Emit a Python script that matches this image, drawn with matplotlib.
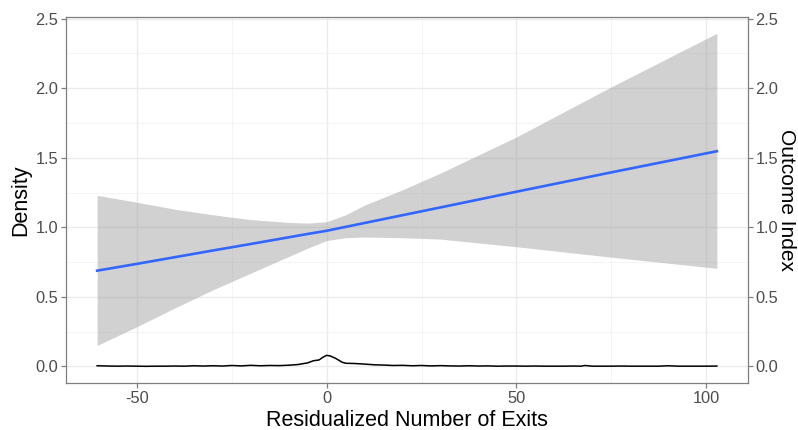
import numpy as np
import matplotlib
matplotlib.use("Agg")
import matplotlib.pyplot as plt
from matplotlib.ticker import MultipleLocator

plt.rcParams['font.family'] = ['Liberation Sans', 'DejaVu Sans']

# smooth fit (outcome index) and its confidence band
fit_x = [-60.5, -50, -40, -30, -20, -10, -5, 0, 5, 10, 20, 30, 50, 75, 102.8]
fit_y = [0.688, 0.737, 0.785, 0.833, 0.880, 0.928, 0.952, 0.975, 1.003, 1.031, 1.087, 1.143, 1.256, 1.395, 1.547]
fit_lo = [0.15, 0.285, 0.42, 0.55, 0.67, 0.79, 0.85, 0.905, 0.925, 0.93, 0.925, 0.915, 0.86, 0.785, 0.705]
fit_hi = [1.23, 1.18, 1.13, 1.09, 1.055, 1.035, 1.03, 1.04, 1.09, 1.16, 1.27, 1.39, 1.65, 2.01, 2.395]

# density of residualized exits
dens_x = [-60.5, -57.5, -55, -52.5, -50, -47.5, -45, -42.5, -40, -37.5, -35, -32.5,
          -30, -27.5, -25, -22.5, -20, -17.5, -15, -12.5, -10, -7.5, -5, -3.5,
          -2, -1, 0, 1, 2.5, 4, 5, 7.5, 10, 12.5, 15, 17.5, 20, 22.5, 25, 27.5,
          30, 32.5, 35, 37.5, 40, 42.5, 45, 47.5, 50, 52.5, 55, 57.5, 60, 62.5,
          65, 67, 68, 70, 72.5, 75, 77.5, 80, 82.5, 85, 87.5, 90, 92.5, 95,
          97.5, 100, 102.8]
dens_y = [0.004, 0.002, 0.001, 0.002, 0.001, 0.000, 0.001, 0.001, 0.002, 0.001, 0.004, 0.002,
          0.004, 0.002, 0.006, 0.003, 0.007, 0.004, 0.006, 0.005, 0.008, 0.013, 0.025, 0.040,
          0.046, 0.065, 0.079, 0.074, 0.055, 0.030, 0.022, 0.020, 0.016, 0.011, 0.009, 0.006,
          0.007, 0.004, 0.006, 0.003, 0.005, 0.003, 0.002, 0.004, 0.002, 0.003, 0.001, 0.002,
          0.002, 0.001, 0.002, 0.001, 0.001, 0.001, 0.002, 0.001, 0.006, 0.001, 0.001, 0.001,
          0.002, 0.001, 0.001, 0.001, 0.001, 0.004, 0.001, 0.001, 0.001, 0.001, 0.002]

fig = plt.figure(figsize=(7.98, 4.3), dpi=100)
ax = fig.add_axes([0.0827, 0.1093, 0.8546, 0.852])

ax.fill_between(fit_x, fit_lo, fit_hi, color="#999999", alpha=0.45, lw=0, zorder=2)
ax.plot(fit_x, fit_y, color="#3366FF", lw=1.9, zorder=3)
ax.plot(dens_x, dens_y, color="black", lw=1.1, zorder=3)

ax.set_xlim(-68.7, 111)
ax.set_ylim(-0.12, 2.515)
ax.xaxis.set_major_locator(MultipleLocator(50))
ax.xaxis.set_minor_locator(MultipleLocator(25))
ax.yaxis.set_major_locator(MultipleLocator(0.5))
ax.yaxis.set_minor_locator(MultipleLocator(0.25))
ax.set_xticks([-50, 0, 50, 100])
ax.set_xticklabels(["-50", "0", "50", "100"])

ax.grid(which="major", color="#ebebeb", lw=1.0, zorder=0)
ax.grid(which="minor", color="#f2f2f2", lw=0.6, zorder=0)
ax.set_axisbelow(True)
for s in ax.spines.values():
    s.set_color("#7f7f7f")
    s.set_linewidth(0.9)

ax.tick_params(which="major", length=3.5, width=0.9, color="#7f7f7f",
               labelsize=11.8, labelcolor="#4d4d4d", pad=2)
ax.tick_params(which="minor", length=0)
ax.yaxis.set_major_formatter(matplotlib.ticker.FormatStrFormatter("%.1f"))

ax.set_xlabel("Residualized Number of Exits", fontsize=15.5, labelpad=3)
ax.set_ylabel("Density", fontsize=15.5, labelpad=3)

ax2 = ax.twinx()
ax2.set_ylim(ax.get_ylim())
ax2.yaxis.set_major_locator(MultipleLocator(0.5))
ax2.yaxis.set_major_formatter(matplotlib.ticker.FormatStrFormatter("%.1f"))
ax2.tick_params(length=3.5, width=0.9, color="#7f7f7f", labelsize=11.8,
                labelcolor="#4d4d4d", pad=2)
for s in ax2.spines.values():
    s.set_visible(False)
ax2.set_ylabel("Outcome Index", fontsize=15, rotation=270, va="center")
ax2.yaxis.set_label_coords(1.0565, 0.5)

plt.savefig("out.png", dpi=100)
